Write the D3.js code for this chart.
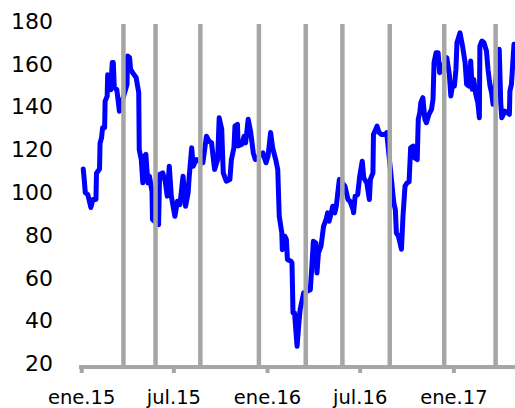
<!DOCTYPE html>
<html>
<head>
<meta charset="utf-8">
<script src="https://cdn.jsdelivr.net/npm/d3@7"></script>
<style>
  html, body { margin: 0; padding: 0; background: #fff; }
  svg { display: block; }
</style>
</head>
<body>
<svg id="svg" width="515" height="408"></svg>
<script>
// series
var dates = [
  "2015-01-05","2015-01-07","2015-01-09","2015-01-14","2015-01-20","2015-01-24","2015-01-30","2015-01-31",
  "2015-02-06","2015-02-07","2015-02-10","2015-02-12","2015-02-16","2015-02-17","2015-02-21","2015-02-22",
  "2015-02-26","2015-02-28","2015-03-03","2015-03-05","2015-03-07","2015-03-12","2015-03-17",
  "2015-04-01","2015-04-02","2015-04-06","2015-04-08","2015-04-12","2015-04-19","2015-04-24","2015-04-25",
  "2015-04-29","2015-05-02","2015-05-05","2015-05-08","2015-05-12","2015-05-15","2015-05-20","2015-05-21",
  "2015-06-02","2015-06-04","2015-06-10","2015-06-15","2015-06-19","2015-06-23","2015-06-27",
  "2015-07-04","2015-07-09","2015-07-14","2015-07-20","2015-07-25","2015-07-30",
  "2015-08-01","2015-08-06","2015-08-09","2015-08-15","2015-08-28",
  "2015-09-04","2015-09-09","2015-09-14","2015-09-20","2015-09-26","2015-09-29",
  "2015-10-04","2015-10-07","2015-10-13","2015-10-20","2015-10-23","2015-10-28","2015-10-30",
  "2015-11-04","2015-11-05","2015-11-12","2015-11-17","2015-11-20","2015-11-25","2015-11-30",
  "2015-12-05","2015-12-09","2015-12-24","2015-12-30",
  "2016-01-03","2016-01-08","2016-01-12","2016-01-18","2016-01-22","2016-01-25","2016-01-30","2016-01-31",
  "2016-02-05","2016-02-08","2016-02-10","2016-02-17","2016-02-19","2016-02-21","2016-02-24","2016-02-29",
  "2016-03-03","2016-03-06","2016-03-13","2016-03-26","2016-03-29",
  "2016-04-01","2016-04-06","2016-04-08","2016-04-11","2016-04-16","2016-04-21","2016-04-26","2016-04-29",
  "2016-05-02","2016-05-06","2016-05-09","2016-05-13","2016-05-16","2016-05-19","2016-05-22",
  "2016-06-02","2016-06-08","2016-06-12","2016-06-18","2016-06-19","2016-06-22","2016-06-27",
  "2016-07-01","2016-07-06","2016-07-09","2016-07-15","2016-07-20","2016-07-22","2016-07-27","2016-07-28","2016-07-31",
  "2016-08-04","2016-08-08","2016-08-13","2016-08-20","2016-08-23",
  "2016-09-06","2016-09-09","2016-09-11","2016-09-15","2016-09-21","2016-09-24","2016-09-28",
  "2016-10-02","2016-10-06","2016-10-09","2016-10-14","2016-10-17","2016-10-22","2016-10-24","2016-10-27","2016-10-29",
  "2016-11-02","2016-11-06","2016-11-09","2016-11-14","2016-11-19","2016-11-22","2016-11-24","2016-11-28","2016-11-30",
  "2016-12-02","2016-12-05","2016-12-19","2016-12-24","2016-12-27","2016-12-30",
  "2017-01-03","2017-01-06","2017-01-08","2017-01-14","2017-01-19","2017-01-24","2017-01-27",
  "2017-02-01","2017-02-04","2017-02-07","2017-02-10","2017-02-14","2017-02-18","2017-02-21","2017-02-22","2017-02-26",
  "2017-03-02","2017-03-07","2017-03-10","2017-03-14","2017-03-17","2017-03-20",
  "2017-04-01","2017-04-04","2017-04-06","2017-04-12","2017-04-17","2017-04-21","2017-04-22","2017-04-25","2017-04-30"
];
var values = [
  111, 106, 100, 99, 93, 96.7, 96.7, 109,
  111, 123, 125.6, 130.3, 130.3, 142.7, 145, 155,
  154.4, 148, 160.7, 160.7, 149, 148, 138,
  150.5, 163.8, 163, 157.5, 156, 153.6, 146.6, 120,
  115.4, 104.5, 117, 117.8, 104.5, 107.6, 100.6, 87.4,
  85, 108.4, 109.2, 105.3, 98.3, 112.3, 98.3,
  88.9, 95.9, 94.4, 107.6, 93.6, 99.9,
  107, 120.9, 112.3, 115.4, 113.9,
  126.3, 124, 123.2, 110.8, 115.4, 134.9,
  129.5, 109.2, 105.3, 106.1, 115.4, 120.9, 131,
  131.8, 121.7, 122.4, 126.3, 123.2, 134.2, 128,
  118.5, 115.4, 118.5, 113.9,
  117, 128, 120.9, 115.4, 110.8, 88.9, 81.1, 73.3,
  79.6, 78, 68.7, 67.9, 67.1, 43.7, 43.7, 28.1,
  37.4, 45.3, 53.1, 54.6, 65.5,
  77.2, 76.4, 62.4, 71.8, 74.9, 84.2, 87.4, 90.5,
  86.6, 90.5, 93.6, 90.5, 93.6, 99.9, 106.1,
  103, 96.7, 95.9, 92, 90.5, 98.3, 99,
  107.6, 114.6, 106.8, 104.5, 96.7, 106.1, 109.2, 127.1, 128.7,
  131, 128, 127.1, 127.1, 128,
  95.1, 92, 81.1, 79.6, 73.5, 88.9, 103,
  104.5, 105, 120.9, 121.7, 116.2, 115.4, 134.2, 137.3, 142,
  144.3, 134.2, 132.6, 136.5, 138.8, 143.5, 160.7, 165.3, 160.7,
  165.3, 156, 163, 155.2, 145.1, 149.7,
  149.7, 157.5, 170, 174.6, 168.4, 160.7, 150.5,
  149.7, 161.4, 148.2, 152.8, 145.8, 142, 134.9, 168.4, 170.8,
  170, 166.1, 157.5, 149.7, 146.6, 141.2,
  166.9, 142, 134.9, 138, 137.3, 136.5, 147.4, 150.5, 169.3
];

// grey event markers
var eventDates = ["2015-03-25","2015-05-27","2015-08-23","2015-12-16","2016-03-17",
                  "2016-05-28","2016-08-29","2016-12-14","2017-03-25"];

var xTickDates = ["2015-01-01","2015-07-01","2016-01-01","2016-07-01","2017-01-01"];
var xTickLabels = ["ene.15","jul.15","ene.16","jul.16","ene.17"];
var yTicks = [20, 40, 60, 80, 100, 120, 140, 160, 180];

var parse = d3.timeParse("%Y-%m-%d");
var svg = d3.select("#svg");
var font = "'DejaVu Sans', Verdana, sans-serif";

var x = d3.scaleTime()
    .domain([parse("2015-01-01"), parse("2017-05-02")])
    .range([81.2, 515]);
var y = d3.scaleLinear()
    .domain([20, 180])
    .range([363.7, 21.3]);

var data = dates.map(function(d, i) { return {date: parse(d), value: values[i]}; });

var line = d3.line()
    .x(function(d) { return x(d.date); })
    .y(function(d) { return y(d.value); });

svg.append("path")
    .datum(data)
    .attr("fill", "none")
    .attr("stroke", "#0000ff")
    .attr("stroke-width", 5)
    .attr("stroke-linejoin", "round")
    .attr("stroke-linecap", "round")
    .attr("d", line);

// event bars sit on top of the line
svg.append("g")
  .selectAll("line")
  .data(eventDates)
  .enter().append("line")
    .attr("x1", function(d) { return x(parse(d)); })
    .attr("x2", function(d) { return x(parse(d)); })
    .attr("y1", 24)
    .attr("y2", 367)
    .attr("stroke", "#a6a6a6")
    .attr("stroke-width", 4.5);

// x axis
var xAxis = d3.axisBottom(x)
    .tickValues(xTickDates.map(parse))
    .tickFormat(function(d, i) { return xTickLabels[i]; })
    .tickSize(6)
    .tickSizeOuter(0)
    .tickPadding(17);

var gx = svg.append("g")
    .attr("transform", "translate(0,367)")
    .attr("font-family", font)
    .call(xAxis);
gx.attr("font-family", font);
gx.select(".domain")
    .attr("d", "M79,0H515")
    .attr("stroke", "#a6a6a6")
    .attr("stroke-width", 4);
gx.selectAll(".tick line")
    .attr("stroke", "#a6a6a6")
    .attr("stroke-width", 4);
gx.selectAll(".tick text")
    .attr("fill", "#000")
    .style("font-family", font)
    .style("font-size", "19.5px");

// y axis: labels only
var gy = svg.append("g")
    .attr("transform", "translate(53,0)")
    .call(d3.axisLeft(y).tickValues(yTicks).tickSize(0).tickPadding(0));
gy.select(".domain").remove();
gy.selectAll(".tick text")
    .attr("fill", "#000")
    .style("font-family", font)
    .style("font-size", "22px");
</script>
</body>
</html>
